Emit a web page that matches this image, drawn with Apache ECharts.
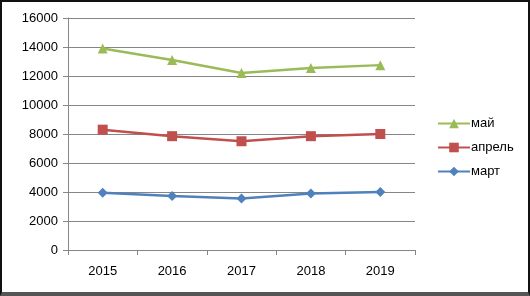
<!DOCTYPE html>
<html lang="ru">
<head>
  <meta charset="UTF-8">
  <title>Chart</title>
  <style>
    html, body { margin: 0; padding: 0; background: #fff; }
    #main { position: absolute; left: 0; top: 0; width: 526px; height: 290px;
            border: 2px solid #111; border-bottom: 4px solid #555; background: #fff; }
  </style>
</head>
<body>
  <div id="main"></div>

  <script src="https://cdn.jsdelivr.net/npm/echarts@6/dist/echarts.min.js"></script>
  <script>
    var years = ['2015', '2016', '2017', '2018', '2019']
    var may = [13900, 13100, 12200, 12550, 12750]
    var april = [8300, 7850, 7500, 7850, 8000]
    var march = [3950, 3720, 3550, 3900, 4000]
    var yTicks = { min: 0, max: 16000, interval: 2000 }

    var myChart = echarts.init(document.getElementById('main'))
    var font = 'Liberation Sans, Arial, sans-serif'

    var options = {
      animation: false,
      grid: { left: 66, top: 16, width: 347, height: 232 },
      legend: {
        orient: 'vertical',
        left: 430,
        top: 110,
        itemGap: 11,
        itemWidth: 32,
        itemHeight: 12,
        data: ['май', 'апрель', 'март'],
        textStyle: { fontFamily: font, fontSize: 13, color: '#000', padding: [0, 0, 0, -4] }
      },
      xAxis: {
        type: 'category',
        data: years,
        axisLine: { lineStyle: { color: '#868686' } },
        axisTick: { show: true, length: 5, lineStyle: { color: '#868686' } },
        axisLabel: { fontFamily: font, fontSize: 13, color: '#000', margin: 15 }
      },
      yAxis: {
        type: 'value',
        min: yTicks.min,
        max: yTicks.max,
        interval: yTicks.interval,
        axisLine: { show: true, lineStyle: { color: '#868686' } },
        axisTick: { show: true, length: 5, lineStyle: { color: '#868686' } },
        splitLine: { lineStyle: { color: '#868686' } },
        axisLabel: { fontFamily: font, fontSize: 13, color: '#000', margin: 10,
                     formatter: function (v) { return String(v) } }
      },
      series: [
        {
          name: 'март', type: 'line', data: march,
          symbol: 'diamond', symbolSize: 10,
          lineStyle: { color: '#4F81BD', width: 2.5 },
          itemStyle: { color: '#4F81BD' }
        },
        {
          name: 'апрель', type: 'line', data: april,
          symbol: 'rect', symbolSize: 10,
          lineStyle: { color: '#C0504D', width: 2.5 },
          itemStyle: { color: '#C0504D' }
        },
        {
          name: 'май', type: 'line', data: may,
          symbol: 'triangle', symbolSize: 10,
          lineStyle: { color: '#9BBB59', width: 2.5 },
          itemStyle: { color: '#9BBB59' }
        }
      ]
    }
    myChart.setOption(options)
  </script>
</body>
</html>
